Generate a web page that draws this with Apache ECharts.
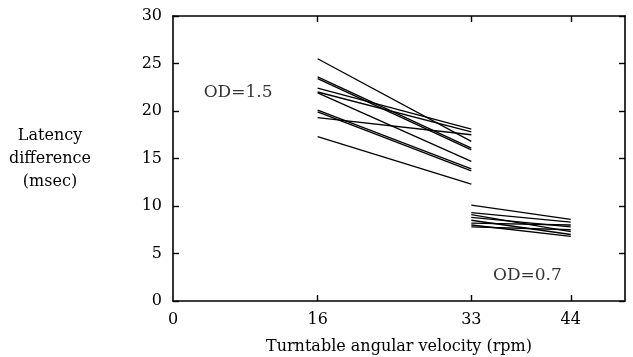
<!DOCTYPE html>
<html><head><meta charset="utf-8">
<script src="https://cdn.jsdelivr.net/npm/echarts@6/dist/echarts.min.js"></script>
<style>html,body{margin:0;padding:0;background:#fff}#c{width:633px;height:357px}</style>
</head><body><div id="c"></div>
<script>
// Data
const xTickLabels = [0, 16, 33, 44];
const yTickLabels = [0, 5, 10, 15, 20, 25, 30];
const od15X = [16, 33];
const od15Start = [25.5, 23.6, 23.4, 22.4, 22.0, 21.9, 20.1, 19.9, 19.3, 17.3];
const od15End   = [16.8, 16.1, 15.9, 18.1, 17.8, 14.7, 13.9, 13.7, 17.5, 12.3];
const od07X = [33, 44];
const od07Start = [10.1, 9.3, 9.1, 8.8, 8.5, 8.2, 8.0, 7.8];
const od07End   = [8.6, 8.3, 7.3, 7.8, 7.0, 8.0, 6.8, 7.5];
const groupLabels = [
  { text: 'OD=1.5', x: 7.2, y: 21.9 },
  { text: 'OD=0.7', x: 39.2, y: 2.7 }
];

const font = 'DejaVu Serif';
const series = [];
od15Start.forEach((s, i) => {
  series.push({ type: 'line', data: [[od15X[0], s], [od15X[1], od15End[i]]],
    symbol: 'none', silent: true, lineStyle: { color: '#000', width: 1.3 } });
});
od07Start.forEach((s, i) => {
  series.push({ type: 'line', data: [[od07X[0], s], [od07X[1], od07End[i]]],
    symbol: 'none', silent: true, lineStyle: { color: '#000', width: 1.3 } });
});
series.push({ type: 'scatter', symbolSize: 0, silent: true,
  data: groupLabels.map(g => ({ value: [g.x, g.y], name: g.text })),
  label: { show: true, position: 'inside', formatter: p => p.name,
    color: '#000', fontFamily: font, fontSize: 17 } });

const axisLine = { show: true, onZero: false, lineStyle: { color: '#000', width: 1.6 } };
const tick = { color: '#000', width: 1.4 };
const chart = echarts.init(document.getElementById('c'), null, { renderer: 'canvas' });
chart.setOption({
  animation: false,
  backgroundColor: '#fff',
  grid: { left: 173, right: 8, top: 16, bottom: 56, containLabel: false, outerBoundsMode: 'none' },
  xAxis: [{
    type: 'value', min: 0, max: 50, position: 'bottom',
    name: 'Turntable angular velocity (rpm)', nameLocation: 'middle', nameGap: 38,
    nameTextStyle: { color: '#000', fontFamily: font, fontSize: 16 },
    axisLine: axisLine, splitLine: { show: false },
    axisTick: { show: true, inside: true, length: 6, customValues: xTickLabels.slice(1), lineStyle: tick },
    axisLabel: { customValues: xTickLabels, color: '#000', fontFamily: font, fontSize: 16, margin: 11 }
  }, {
    type: 'value', min: 0, max: 50, position: 'top',
    axisLine: axisLine, splitLine: { show: false },
    axisTick: { show: true, inside: true, length: 6, customValues: xTickLabels.slice(1), lineStyle: tick },
    axisLabel: { show: false }
  }],
  yAxis: [{
    type: 'value', min: 0, max: 30, interval: 5, position: 'left',
    name: 'Latency\ndifference\n(msec)', nameLocation: 'middle', nameGap: 123, nameRotate: 0,
    nameTextStyle: { color: '#000', fontFamily: font, fontSize: 16, lineHeight: 23, align: 'center', verticalAlign: 'middle' },
    axisLine: axisLine, splitLine: { show: false },
    axisTick: { show: true, inside: true, length: 6, lineStyle: tick },
    axisLabel: { color: '#000', fontFamily: font, fontSize: 16, margin: 11,
      formatter: v => yTickLabels.includes(v) ? String(v) : '' }
  }, {
    type: 'value', min: 0, max: 30, interval: 5, position: 'right',
    axisLine: axisLine, splitLine: { show: false },
    axisTick: { show: true, inside: true, length: 6, lineStyle: tick },
    axisLabel: { show: false }
  }],
  series: series
});
</script></body></html>
